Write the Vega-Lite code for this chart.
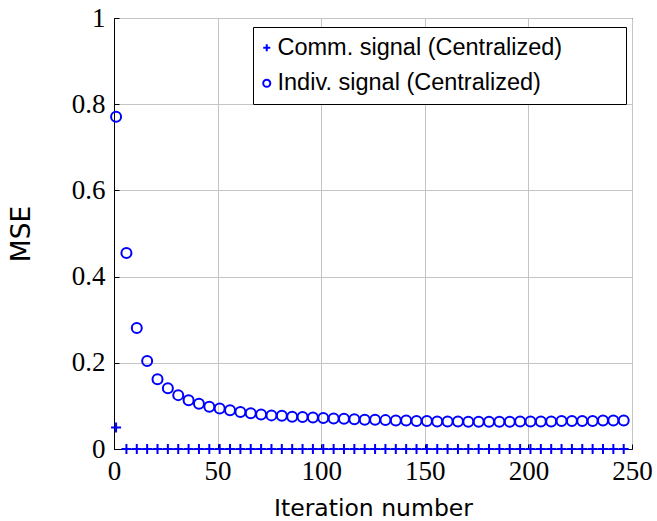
{
  "$schema": "https://vega.github.io/schema/vega-lite/v6.json",
  "autosize": "none",
  "padding": {"left": 114, "top": 18, "right": 25, "bottom": 72},
  "width": 518,
  "height": 431,
  "background": "white",
  "config": {
    "view": {"stroke": "black", "strokeWidth": 1},
    "legend": {"strokeColor": "black", "fillColor": "white"},
    "axis": {
      "domainColor": "black",
      "gridColor": "#c4c4c4",
      "tickColor": "black",
      "tickSize": -5,
      "labelFont": "Liberation Serif",
      "labelFontSize": 27,
      "labelColor": "black",
      "titleFont": "DejaVu Sans",
      "titleFontSize": 23.5,
      "titleFontWeight": "normal",
      "titleColor": "black"
    }
  },
  "data": {
    "values": [
      {"iter": 1, "mse": 0.771, "series": "Indiv. signal (Centralized)"},
      {"iter": 6, "mse": 0.455, "series": "Indiv. signal (Centralized)"},
      {"iter": 11, "mse": 0.281, "series": "Indiv. signal (Centralized)"},
      {"iter": 16, "mse": 0.204, "series": "Indiv. signal (Centralized)"},
      {"iter": 21, "mse": 0.162, "series": "Indiv. signal (Centralized)"},
      {"iter": 26, "mse": 0.141, "series": "Indiv. signal (Centralized)"},
      {"iter": 31, "mse": 0.125, "series": "Indiv. signal (Centralized)"},
      {"iter": 36, "mse": 0.113, "series": "Indiv. signal (Centralized)"},
      {"iter": 41, "mse": 0.105, "series": "Indiv. signal (Centralized)"},
      {"iter": 46, "mse": 0.098, "series": "Indiv. signal (Centralized)"},
      {"iter": 51, "mse": 0.094, "series": "Indiv. signal (Centralized)"},
      {"iter": 56, "mse": 0.090, "series": "Indiv. signal (Centralized)"},
      {"iter": 61, "mse": 0.086, "series": "Indiv. signal (Centralized)"},
      {"iter": 66, "mse": 0.083, "series": "Indiv. signal (Centralized)"},
      {"iter": 71, "mse": 0.080, "series": "Indiv. signal (Centralized)"},
      {"iter": 76, "mse": 0.078, "series": "Indiv. signal (Centralized)"},
      {"iter": 81, "mse": 0.077, "series": "Indiv. signal (Centralized)"},
      {"iter": 86, "mse": 0.075, "series": "Indiv. signal (Centralized)"},
      {"iter": 91, "mse": 0.074, "series": "Indiv. signal (Centralized)"},
      {"iter": 96, "mse": 0.073, "series": "Indiv. signal (Centralized)"},
      {"iter": 101, "mse": 0.072, "series": "Indiv. signal (Centralized)"},
      {"iter": 106, "mse": 0.071, "series": "Indiv. signal (Centralized)"},
      {"iter": 111, "mse": 0.070, "series": "Indiv. signal (Centralized)"},
      {"iter": 116, "mse": 0.069, "series": "Indiv. signal (Centralized)"},
      {"iter": 121, "mse": 0.068, "series": "Indiv. signal (Centralized)"},
      {"iter": 126, "mse": 0.068, "series": "Indiv. signal (Centralized)"},
      {"iter": 131, "mse": 0.067, "series": "Indiv. signal (Centralized)"},
      {"iter": 136, "mse": 0.066, "series": "Indiv. signal (Centralized)"},
      {"iter": 141, "mse": 0.066, "series": "Indiv. signal (Centralized)"},
      {"iter": 146, "mse": 0.065, "series": "Indiv. signal (Centralized)"},
      {"iter": 151, "mse": 0.065, "series": "Indiv. signal (Centralized)"},
      {"iter": 156, "mse": 0.064, "series": "Indiv. signal (Centralized)"},
      {"iter": 161, "mse": 0.064, "series": "Indiv. signal (Centralized)"},
      {"iter": 166, "mse": 0.064, "series": "Indiv. signal (Centralized)"},
      {"iter": 171, "mse": 0.063, "series": "Indiv. signal (Centralized)"},
      {"iter": 176, "mse": 0.063, "series": "Indiv. signal (Centralized)"},
      {"iter": 181, "mse": 0.063, "series": "Indiv. signal (Centralized)"},
      {"iter": 186, "mse": 0.063, "series": "Indiv. signal (Centralized)"},
      {"iter": 191, "mse": 0.063, "series": "Indiv. signal (Centralized)"},
      {"iter": 196, "mse": 0.064, "series": "Indiv. signal (Centralized)"},
      {"iter": 201, "mse": 0.064, "series": "Indiv. signal (Centralized)"},
      {"iter": 206, "mse": 0.064, "series": "Indiv. signal (Centralized)"},
      {"iter": 211, "mse": 0.064, "series": "Indiv. signal (Centralized)"},
      {"iter": 216, "mse": 0.065, "series": "Indiv. signal (Centralized)"},
      {"iter": 221, "mse": 0.065, "series": "Indiv. signal (Centralized)"},
      {"iter": 226, "mse": 0.065, "series": "Indiv. signal (Centralized)"},
      {"iter": 231, "mse": 0.065, "series": "Indiv. signal (Centralized)"},
      {"iter": 236, "mse": 0.066, "series": "Indiv. signal (Centralized)"},
      {"iter": 241, "mse": 0.066, "series": "Indiv. signal (Centralized)"},
      {"iter": 246, "mse": 0.066, "series": "Indiv. signal (Centralized)"},
      {"iter": 1, "mse": 0.05, "series": "Comm. signal (Centralized)"},
      {"iter": 6, "mse": 0, "series": "Comm. signal (Centralized)"},
      {"iter": 11, "mse": 0, "series": "Comm. signal (Centralized)"},
      {"iter": 16, "mse": 0, "series": "Comm. signal (Centralized)"},
      {"iter": 21, "mse": 0, "series": "Comm. signal (Centralized)"},
      {"iter": 26, "mse": 0, "series": "Comm. signal (Centralized)"},
      {"iter": 31, "mse": 0, "series": "Comm. signal (Centralized)"},
      {"iter": 36, "mse": 0, "series": "Comm. signal (Centralized)"},
      {"iter": 41, "mse": 0, "series": "Comm. signal (Centralized)"},
      {"iter": 46, "mse": 0, "series": "Comm. signal (Centralized)"},
      {"iter": 51, "mse": 0, "series": "Comm. signal (Centralized)"},
      {"iter": 56, "mse": 0, "series": "Comm. signal (Centralized)"},
      {"iter": 61, "mse": 0, "series": "Comm. signal (Centralized)"},
      {"iter": 66, "mse": 0, "series": "Comm. signal (Centralized)"},
      {"iter": 71, "mse": 0, "series": "Comm. signal (Centralized)"},
      {"iter": 76, "mse": 0, "series": "Comm. signal (Centralized)"},
      {"iter": 81, "mse": 0, "series": "Comm. signal (Centralized)"},
      {"iter": 86, "mse": 0, "series": "Comm. signal (Centralized)"},
      {"iter": 91, "mse": 0, "series": "Comm. signal (Centralized)"},
      {"iter": 96, "mse": 0, "series": "Comm. signal (Centralized)"},
      {"iter": 101, "mse": 0, "series": "Comm. signal (Centralized)"},
      {"iter": 106, "mse": 0, "series": "Comm. signal (Centralized)"},
      {"iter": 111, "mse": 0, "series": "Comm. signal (Centralized)"},
      {"iter": 116, "mse": 0, "series": "Comm. signal (Centralized)"},
      {"iter": 121, "mse": 0, "series": "Comm. signal (Centralized)"},
      {"iter": 126, "mse": 0, "series": "Comm. signal (Centralized)"},
      {"iter": 131, "mse": 0, "series": "Comm. signal (Centralized)"},
      {"iter": 136, "mse": 0, "series": "Comm. signal (Centralized)"},
      {"iter": 141, "mse": 0, "series": "Comm. signal (Centralized)"},
      {"iter": 146, "mse": 0, "series": "Comm. signal (Centralized)"},
      {"iter": 151, "mse": 0, "series": "Comm. signal (Centralized)"},
      {"iter": 156, "mse": 0, "series": "Comm. signal (Centralized)"},
      {"iter": 161, "mse": 0, "series": "Comm. signal (Centralized)"},
      {"iter": 166, "mse": 0, "series": "Comm. signal (Centralized)"},
      {"iter": 171, "mse": 0, "series": "Comm. signal (Centralized)"},
      {"iter": 176, "mse": 0, "series": "Comm. signal (Centralized)"},
      {"iter": 181, "mse": 0, "series": "Comm. signal (Centralized)"},
      {"iter": 186, "mse": 0, "series": "Comm. signal (Centralized)"},
      {"iter": 191, "mse": 0, "series": "Comm. signal (Centralized)"},
      {"iter": 196, "mse": 0, "series": "Comm. signal (Centralized)"},
      {"iter": 201, "mse": 0, "series": "Comm. signal (Centralized)"},
      {"iter": 206, "mse": 0, "series": "Comm. signal (Centralized)"},
      {"iter": 211, "mse": 0, "series": "Comm. signal (Centralized)"},
      {"iter": 216, "mse": 0, "series": "Comm. signal (Centralized)"},
      {"iter": 221, "mse": 0, "series": "Comm. signal (Centralized)"},
      {"iter": 226, "mse": 0, "series": "Comm. signal (Centralized)"},
      {"iter": 231, "mse": 0, "series": "Comm. signal (Centralized)"},
      {"iter": 236, "mse": 0, "series": "Comm. signal (Centralized)"},
      {"iter": 241, "mse": 0, "series": "Comm. signal (Centralized)"},
      {"iter": 246, "mse": 0, "series": "Comm. signal (Centralized)"}
    ]
  },
  "mark": {"type": "point", "filled": false, "strokeWidth": 2, "size": 100, "opacity": 1, "clip": false},
  "encoding": {
    "x": {
      "field": "iter", "type": "quantitative",
      "scale": {"domain": [0, 250], "nice": false, "zero": false},
      "axis": {"title": "Iteration number", "values": [0, 50, 100, 150, 200, 250], "labelPadding": 14, "titlePadding": 12, "labelFlush": false}
    },
    "y": {
      "field": "mse", "type": "quantitative",
      "scale": {"domain": [0, 1], "nice": false},
      "axis": {"title": "MSE", "titleFontSize": 26.5, "values": [0, 0.2, 0.4, 0.6, 0.8, 1], "format": "~g", "labelPadding": 14, "titlePadding": 36, "labelFlush": false}
    },
    "color": {
      "field": "series", "type": "nominal",
      "scale": {"range": ["#0000ff", "#0000ff"]},
      "legend": null
    },
    "shape": {
      "field": "series", "type": "nominal",
      "scale": {"domain": ["Comm. signal (Centralized)", "Indiv. signal (Centralized)"], "range": ["M-1,0H1M0,-1V1", "circle"]},
      "legend": {
        "title": null,
        "orient": "none",
        "legendX": 139,
        "legendY": 9,
        "padding": 9,
        "labelFont": "Liberation Sans",
        "labelFontSize": 23.5,
        "labelColor": "black",
        "labelLimit": 500,
        "labelOffset": -1,
        "symbolOffset": -7,
        "labelExpr": "datum.label + '\u2800\u2800\u2800'",
        "symbolSize": 50,
        "symbolStrokeWidth": 2,
        "symbolStrokeColor": "#0000ff",
        "symbolFillColor": "transparent",
        "rowPadding": 10.5
      }
    }
  }
}
